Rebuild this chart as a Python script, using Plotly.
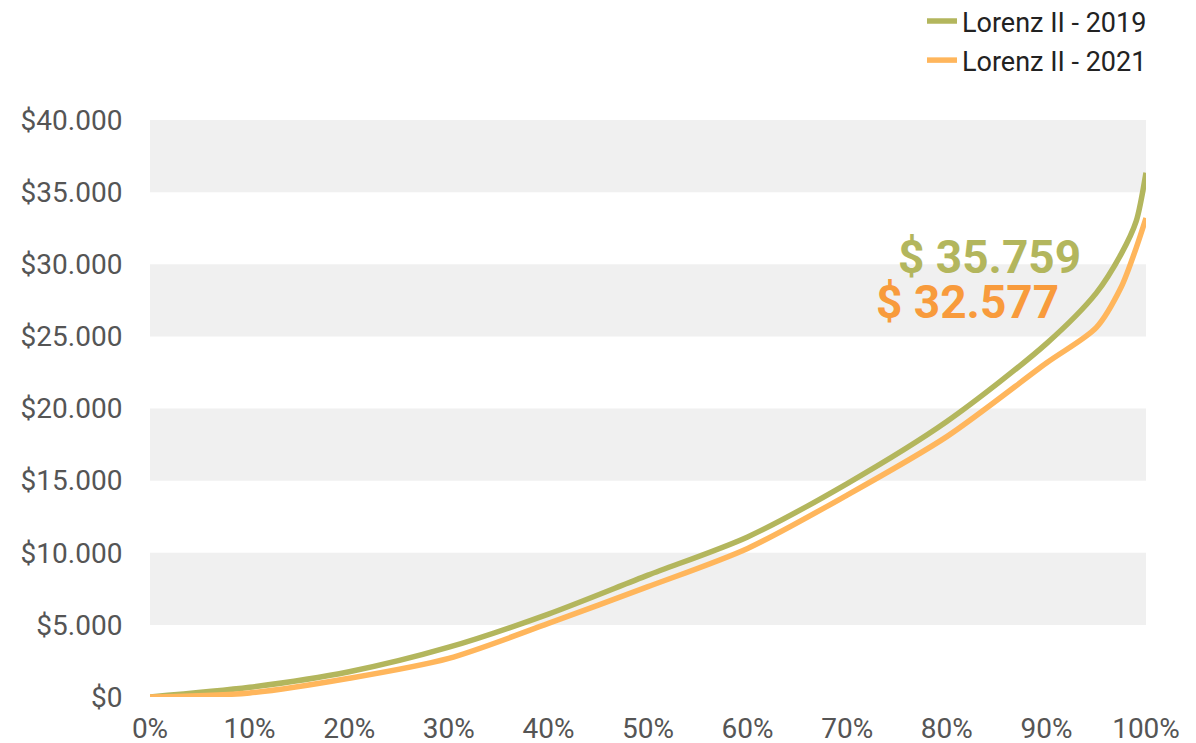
import plotly.graph_objects as go

# Data
percentiles = [0, 10, 20, 30, 40, 50, 60, 70, 80, 90, 95, 97.5, 99, 100]
lorenz_2019 = [0, 670, 1750, 3450, 5750, 8450, 11100, 14800, 19100, 24500, 28000, 30700, 32950, 36350]
lorenz_2021 = [0, 280, 1300, 2680, 5100, 7650, 10300, 14000, 18050, 23150, 25600, 28400, 31100, 33200]

series_names = ["Lorenz II - 2019", "Lorenz II - 2021"]
label_2019 = "$ 35.759"
label_2021 = "$ 32.577"

y_tickvals = [0, 5000, 10000, 15000, 20000, 25000, 30000, 35000, 40000]
y_ticktext = ["$0", "$5.000", "$10.000", "$15.000", "$20.000", "$25.000", "$30.000", "$35.000", "$40.000"]
x_tickvals = [0, 10, 20, 30, 40, 50, 60, 70, 80, 90, 100]
x_ticktext = ["0%", "10%", "20%", "30%", "40%", "50%", "60%", "70%", "80%", "90%", "100%"]
band_ranges = [(5000, 10000), (15000, 20000), (25000, 30000), (35000, 40000)]

GREEN = "#b3b65d"
ORANGE = "#ffb65c"
ORANGE_TXT = "#f89b3c"

fig = go.Figure()
fig.add_trace(go.Scatter(x=percentiles, y=lorenz_2019, mode="lines", name=series_names[0],
                         line=dict(color=GREEN, width=5.5, shape="spline", smoothing=0.8),
                         legendgroup="a", cliponaxis=False))
fig.add_trace(go.Scatter(x=percentiles, y=lorenz_2021, mode="lines", name=series_names[1],
                         line=dict(color=ORANGE, width=5.5, shape="spline", smoothing=0.8),
                         legendgroup="b", cliponaxis=False))

for lo, hi in band_ranges:
    fig.add_shape(type="rect", xref="paper", yref="y", x0=0, x1=1, y0=lo, y1=hi,
                  fillcolor="#f0f0f0", line=dict(width=0), layer="below")

fig.add_annotation(x=84.3, y=30500, text=f"<b>{label_2019}</b>", showarrow=False,
                   font=dict(family="Roboto", size=46, color=GREEN))
fig.add_annotation(x=82.1, y=27350, text=f"<b>{label_2021}</b>", showarrow=False,
                   font=dict(family="Roboto", size=46, color=ORANGE_TXT))

# The page body has an 8px margin, so margins are offset to place the plot area as in the reference
fig.update_layout(
    width=1196, height=743,
    margin=dict(l=142, r=58, t=112, b=54, autoexpand=False),
    plot_bgcolor="white", paper_bgcolor="white",
    font=dict(family="Roboto", color="#555555"),
    showlegend=True,
    legend=dict(x=1.006, y=1.137, xref="paper", yref="paper", xanchor="right", yanchor="middle",
                font=dict(family="Roboto", size=27, color="#222222"),
                tracegroupgap=1, bgcolor="rgba(0,0,0,0)"),
    xaxis=dict(range=[0, 100], tickvals=x_tickvals, ticktext=x_ticktext, showgrid=False,
               zeroline=False, showline=False, ticks="outside", ticklen=6, tickcolor="rgba(0,0,0,0)",
               tickfont=dict(family="Roboto", size=28, color="#555555"), fixedrange=True,
               automargin=False),
    yaxis=dict(range=[0, 40000], tickvals=y_tickvals, ticktext=y_ticktext, showgrid=False,
               zeroline=False, showline=False, ticks="outside", ticklen=21, tickcolor="rgba(0,0,0,0)",
               tickfont=dict(family="Roboto", size=28, color="#555555"), fixedrange=True,
               automargin=False),
)

fig.write_html("out.html")
